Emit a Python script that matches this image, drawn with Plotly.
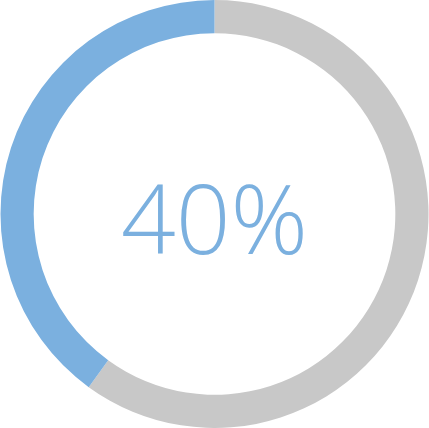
import plotly.graph_objects as go

# Progress ring data
labels = ['Remaining', 'Done']
values = [60, 40]
colors = ['#C8C8C8', '#7BB0DF']
center_text = '40%'

fig = go.Figure(
    data=[go.Pie(
        labels=labels,
        values=values,
        hole=0.845,
        sort=False,
        direction='clockwise',
        rotation=0,
        textinfo='none',
        hoverinfo='none',
        marker=dict(colors=colors, line=dict(width=0)),
        showlegend=False
    )],
    layout=go.Layout(
        width=429,
        height=428,
        margin=dict(l=0, r=0, t=0, b=0),
        paper_bgcolor='white',
        plot_bgcolor='white',
        annotations=[dict(
            text=center_text,
            x=0.5, y=0.495,
            xref='paper', yref='paper',
            showarrow=False,
            font=dict(family='Open Sans', size=96, color='#7BB0DF', weight=300)
        )]
    )
)

fig.write_html("out.html", config={'displayModeBar': False},
               post_script="document.body.style.margin='0';")
